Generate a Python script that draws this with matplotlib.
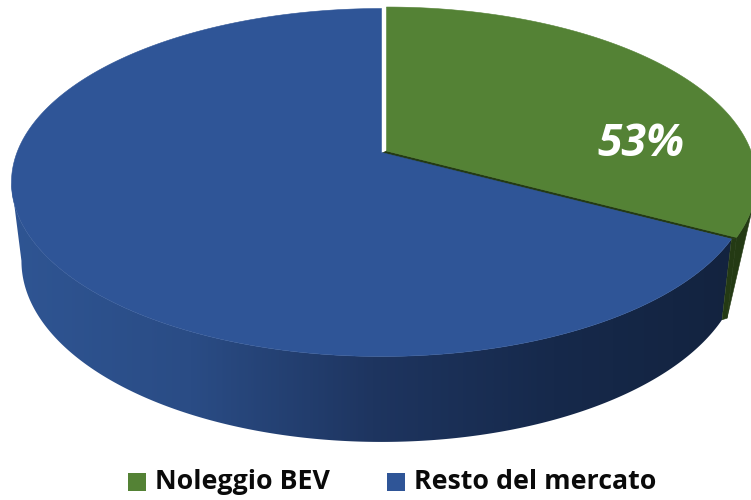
import numpy as np
import matplotlib
matplotlib.use("Agg")
import matplotlib.pyplot as plt
from matplotlib.patches import Polygon, Rectangle

categories = ["Noleggio BEV", "Resto del mercato"]
slice_shares = [32.8, 67.2]      # drawn proportions
printed_label = "53%"            # the label printed in the original
colors = ["#548235", "#2F5597"]
side_green = "#243A14"
blue_stops = [(0.0, "#2F5593"), (0.25, "#2A4C85"), (0.5, "#1E3560"), (0.75, "#16294B"), (1.0, "#13233F")]

W, H = 751, 500
cx, apex_y = 384.0, 152.0
c, A, D = 0.1724, -142.6, 364.5
BOT_SX, BOT_SY, ELL_Y, BOT_Y = 0.973, 1.04, 182.0, 260.5

fig = plt.figure(figsize=(W / 100, H / 100), dpi=100)
ax = fig.add_axes([0, 0, 1, 1])


def top(theta, shift=(0, 0)):
    y, x = np.cos(theta), np.sin(theta)
    d = 1 + c * y
    return cx + D * x / d + shift[0], (A * y + apex_y) / d + shift[1]


def bottom(theta, shift=(0, 0)):
    X, Y = top(theta)
    return cx + (X - cx) * BOT_SX + shift[0], BOT_Y + (Y - ELL_Y) * BOT_SY + shift[1]


frac = slice_shares[0] / sum(slice_shares)
split = 2 * np.pi * frac
g_shift, b_shift = (2.5, -1.0), (-2.5, 0.5)
cmap = matplotlib.colors.LinearSegmentedColormap.from_list("side", blue_stops)


def wall_outline(t0, t1, shift):
    ts = np.linspace(t0, t1, 400)
    bx_, by_ = bottom(ts, shift)
    tx_, ty_ = top(ts[::-1], shift)
    return list(zip(bx_, by_)) + list(zip(tx_, ty_))


# Blue side wall: horizontal gradient clipped to the wall outline
grad = np.linspace(0, 1, 512).reshape(1, -1)
im = ax.imshow(grad, cmap=cmap, extent=(10, 735, H, 0), aspect="auto", zorder=1)
blue_wall = Polygon(wall_outline(split, 1.445 * np.pi, b_shift), closed=True, transform=ax.transData,
                    fc="none", ec="none")
ax.add_patch(blue_wall)
im.set_clip_path(blue_wall)

# Green side wall: top rim back to the bottom corner of the slice
gx, gy = top(split, g_shift)
bx, by = top(split, b_shift)
gbx, gby = bottom(split, g_shift)
bbx, bby = bottom(split, b_shift)
rim = np.linspace(split - 0.066 * np.pi, split, 40)
rx, ry = top(rim, g_shift)
ax.add_patch(Polygon(list(zip(rx, ry)) + [(gbx, gby)], closed=True,
                     fc=side_green, ec=side_green, lw=0.4, zorder=1))
# Radial face closing the gap between the two walls
ax.add_patch(Polygon([(gx, gy), (gbx, gby), (bbx, bby), (bx, by)], closed=True,
                     fc=side_green, ec=side_green, lw=0.4, zorder=1.5))


def sector(t0, t1, shift, colour, z):
    ts = np.linspace(t0, t1, 300)
    xs, ys = top(ts, shift)
    pts = [(cx + shift[0], apex_y + shift[1])] + list(zip(xs, ys))
    ax.add_patch(Polygon(pts, closed=True, fc=colour, ec=colour, lw=0.4, zorder=z))


# narrow dark gap under the green slice
ax.add_patch(Polygon([(cx + g_shift[0], apex_y + g_shift[1]), (gx, gy), (bx, by),
                      (cx + b_shift[0], apex_y + b_shift[1] + 1)], closed=True,
                     fc=side_green, ec=side_green, lw=0.5, zorder=2))
sector(split, 2 * np.pi, b_shift, colors[1], 3)
sector(0, split, g_shift, colors[0], 4)

ax.text(641, 145, printed_label, color="white", fontsize=32, fontweight="bold", fontstyle="italic",
        family="Open Sans", ha="center", va="center", zorder=5)

legend_x = [(128, 155), (387, 414)]
for (sq, tx), name, col in zip(legend_x, categories, colors):
    ax.add_patch(Rectangle((sq, 473), 18, 18, fc=col, ec="none", zorder=5))
    ax.text(tx, 482, name, fontsize=19.3, fontweight="bold", family="Open Sans",
            color="#0a0a0a", ha="left", va="center", zorder=5)

ax.set_xlim(0, W)
ax.set_ylim(H, 0)
ax.axis("off")
fig.savefig("out.png", dpi=100, facecolor="white")
